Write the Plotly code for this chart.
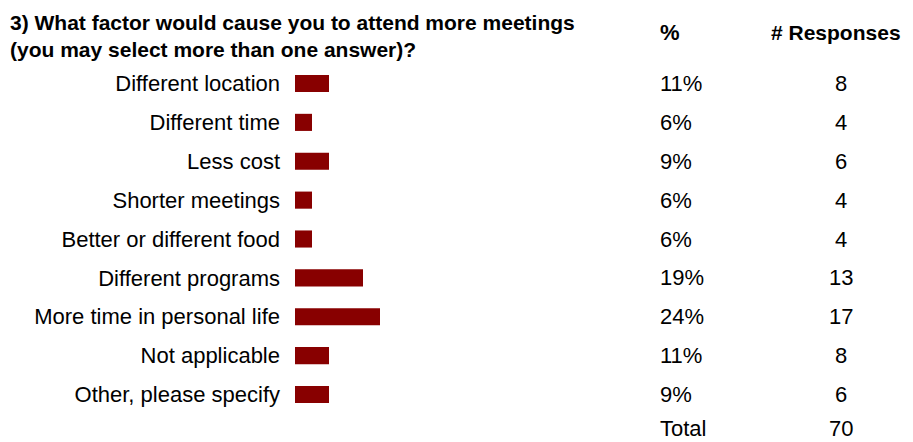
import plotly.graph_objects as go

# ---- data ----
categories = [
    "Different location",
    "Different time",
    "Less cost",
    "Shorter meetings",
    "Better or different food",
    "Different programs",
    "More time in personal life",
    "Not applicable",
    "Other, please specify",
]
percent_labels = ["11%", "6%", "9%", "6%", "6%", "19%", "24%", "11%", "9%"]
responses = [8, 4, 6, 4, 4, 13, 17, 8, 6]
# bar lengths as drawn in the picture (percent units)
bar_lengths = [10, 5, 10, 5, 5, 20, 25, 10, 10]
total_label = "Total"
total_responses = 70
title_text = ("3) What factor would cause you to attend more meetings<br>"
              "(you may select more than one answer)?")
col_headers = ["%", "# Responses"]

W, H = 913, 442
OFF = 8  # page body margin
FONT = "Liberation Sans, Arial, sans-serif"
BAR_COLOR = "#880000"
SIZE = 22

# row geometry (window pixels)
ROW0 = 83.5
ROW_STEP = 38.875


def px(x):
    return (x - OFF) / W


def py(y):
    return (H - (y - OFF)) / H


n = len(categories)

fig = go.Figure()
fig.add_trace(go.Bar(
    x=bar_lengths,
    y=categories,
    orientation="h",
    marker=dict(color=BAR_COLOR, line=dict(width=0)),
    width=0.44,
    hoverinfo="skip",
))

annotations = []
# title
annotations.append(dict(
    text="<b>" + title_text + "</b>", xref="paper", yref="paper",
    x=px(8), y=py(8.5), xanchor="left", yanchor="top", align="left",
    showarrow=False, font=dict(family=FONT, size=21, color="black"),
))
# column headers
annotations.append(dict(
    text="<b>" + col_headers[0] + "</b>", xref="paper", yref="paper",
    x=px(658), y=py(32), xanchor="left", yanchor="middle",
    showarrow=False, font=dict(family=FONT, size=SIZE, color="black"),
))
annotations.append(dict(
    text="<b>" + col_headers[1] + "</b>", xref="paper", yref="paper",
    x=px(836), y=py(32), xanchor="center", yanchor="middle",
    showarrow=False, font=dict(family=FONT, size=21, color="black"),
))
# per-row columns
for i, (p, r) in enumerate(zip(percent_labels, responses)):
    annotations.append(dict(
        text=p, xref="paper", yref="y", x=px(658), y=i,
        xanchor="left", yanchor="middle", showarrow=False,
        font=dict(family=FONT, size=SIZE, color="black"),
    ))
    annotations.append(dict(
        text=str(r), xref="paper", yref="y", x=px(841), y=i,
        xanchor="center", yanchor="middle", showarrow=False,
        font=dict(family=FONT, size=SIZE, color="black"),
    ))
# total row (just under the last category, kept inside the window)
y_total = py(428)
annotations.append(dict(
    text=total_label, xref="paper", yref="paper", x=px(658), y=y_total,
    xanchor="left", yanchor="middle", showarrow=False,
    font=dict(family=FONT, size=SIZE, color="black"),
))
annotations.append(dict(
    text=str(total_responses), xref="paper", yref="paper", x=px(841), y=y_total,
    xanchor="center", yanchor="middle", showarrow=False,
    font=dict(family=FONT, size=SIZE, color="black"),
))

fig.update_layout(
    width=W, height=H,
    margin=dict(l=0, r=0, t=0, b=0),
    paper_bgcolor="white", plot_bgcolor="white",
    showlegend=False,
    xaxis=dict(
        domain=[px(295), px(635)], range=[0, 100],
        showgrid=False, zeroline=False, showline=False,
        showticklabels=False, ticks="", fixedrange=True,
    ),
    yaxis=dict(
        type="category", categoryarray=categories, categoryorder="array",
        range=[n - 0.5, -0.5],
        domain=[py(ROW0 + ROW_STEP * (n - 0.5)), py(ROW0 - ROW_STEP * 0.5)],
        showgrid=False, zeroline=False, showline=False,
        ticks="", ticklabelstandoff=14,
        tickfont=dict(family=FONT, size=SIZE, color="black"),
        fixedrange=True,
    ),
    annotations=annotations,
)

fig.write_html("out.html")
